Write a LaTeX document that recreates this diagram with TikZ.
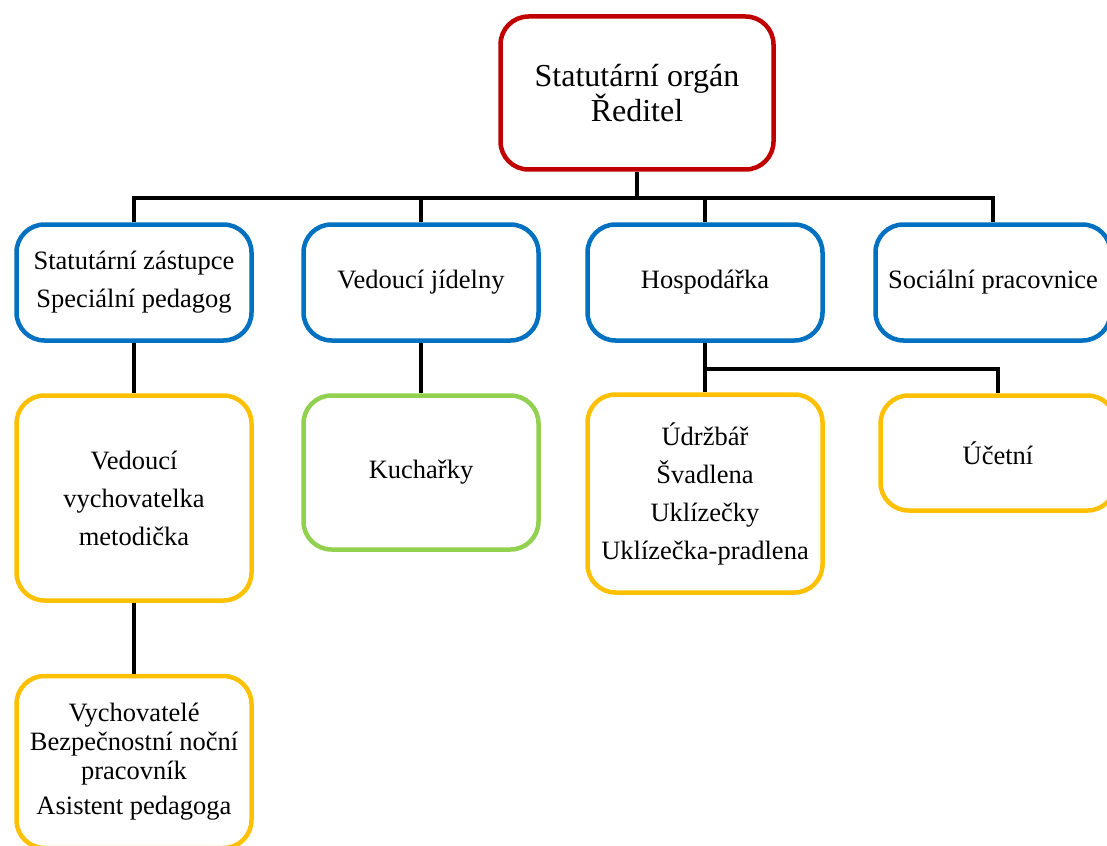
\documentclass[tikz,border=0pt]{standalone}
\usepackage{fontspec}
\setmainfont{Liberation Serif}
\usepackage{xcolor}
\usepackage{tikz}
\usetikzlibrary{positioning}
\pgfdeclarelayer{nodelayer}
\pgfdeclarelayer{edgelayer}
\pgfsetlayers{nodelayer,edgelayer,main}
\definecolor{rootred}{HTML}{C00000}
\definecolor{headblue}{HTML}{0070C0}
\definecolor{staffyellow}{HTML}{FFC000}
\definecolor{kitchengreen}{HTML}{92D050}
\tikzset{
    none/.style = {inner sep=0pt},
    box/.style = {draw, rounded corners=28pt, line width=4.5pt, align=center,
        minimum width=235pt, inner sep=0pt, text=black,
        font=\fontsize{26.5}{38}\selectfont},
    rootbox/.style = {box, draw=rootred, minimum width=273pt, minimum height=153pt,
        font=\fontsize{32}{31}\selectfont},
    headbox/.style = {box, draw=headblue, minimum height=116pt},
    staffbox/.style = {box, draw=staffyellow},
    kitchenbox/.style = {box, draw=kitchengreen}
}

\begin{document}
\begin{tikzpicture}[x=1pt, y=-1pt]
    % page frame
    \useasboundingbox (0, 0) rectangle (1107, 845);

    \begin{pgfonlayer}{nodelayer}
        \node [style=rootbox] (root) at (637, 93) {Statutární orgán\\Ředitel};
        \node [style=none] (bus) at (637, 198) {};
        \node [style=headbox] (zast) at (134, 282.5) {Statutární zástupce\\Speciální pedagog};
        \node [style=headbox] (jid) at (421, 282.5) {Vedoucí jídelny};
        \node [style=headbox] (hosp) at (705, 282.5) {Hospodářka};
        \node [style=headbox] (soc) at (993, 282.5) {Sociální pracovnice};
        \node [style=staffbox, minimum height=205pt] (vych) at (134, 498) {Vedoucí\\vychovatelka\\metodička};
        \node [style=kitchenbox, minimum height=154pt] (kuch) at (421, 472.5) {Kuchařky};
        \node [style=none] (hbus) at (705, 369) {};
        \node [style=staffbox, minimum height=198pt] (udrz) at (705, 493.5) {Údržbář\\Švadlena\\Uklízečky\\Uklízečka-pradlena};
        \node [style=staffbox, minimum height=115pt] (ucet) at (998, 453) {Účetní};
        \node [style=staffbox, minimum height=172pt, font=\fontsize{26.5}{29}\selectfont] (noc) at (134, 762) {Vychovatelé\\Bezpečnostní noční\\pracovník\\[6pt]Asistent pedagoga};
    \end{pgfonlayer}
    \begin{pgfonlayer}{edgelayer}
        \draw [line width=4pt] (root.south) to (bus.center);
        \draw [line width=4pt] (zast.north) |- (bus.center);
        \draw [line width=4pt] (jid.north) |- (bus.center);
        \draw [line width=4pt] (hosp.north) |- (bus.center);
        \draw [line width=4pt] (soc.north) |- (bus.center);
        \draw [line width=4pt] (zast.south) to (vych.north);
        \draw [line width=4pt] (vych.south) to (noc.north);
        \draw [line width=4pt] (jid.south) to (kuch.north);
        \draw [line width=4pt] (hosp.south) to (hbus.center);
        \draw [line width=4pt] (udrz.north) to (hbus.center);
        \draw [line width=4pt] (ucet.north) |- (hbus.center);
    \end{pgfonlayer}
\end{tikzpicture}
\end{document}
